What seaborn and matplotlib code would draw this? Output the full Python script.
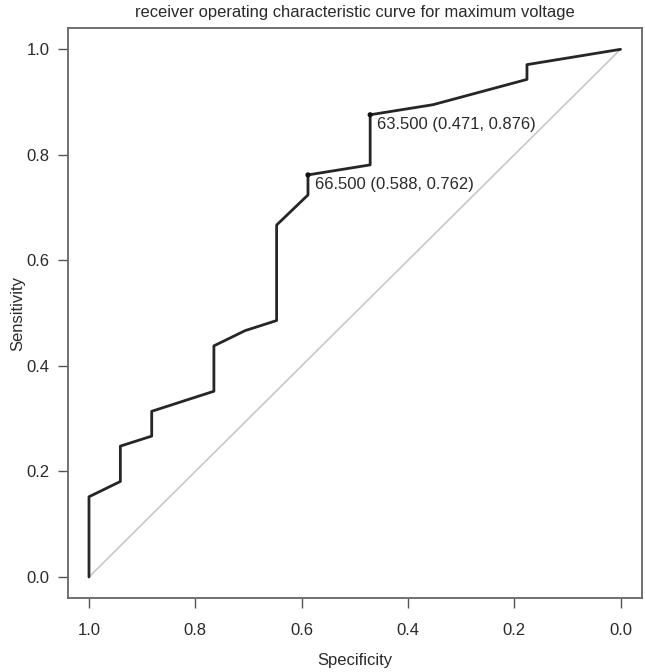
import matplotlib
matplotlib.use("Agg")
import matplotlib.pyplot as plt
import seaborn as sns
import pandas as pd

# ROC curve points (specificity, sensitivity)
specificity = [1.0, 1.0, 0.941, 0.941, 0.882, 0.882, 0.765, 0.765, 0.706, 0.647,
               0.647, 0.588, 0.588, 0.471, 0.471, 0.353, 0.176, 0.176, 0.0]
sensitivity = [0.0, 0.152, 0.181, 0.248, 0.267, 0.314, 0.352, 0.438, 0.467, 0.486,
               0.667, 0.724, 0.762, 0.781, 0.876, 0.895, 0.943, 0.971, 1.0]

# thresholds marked on the curve
thr_labels = ["66.500", "63.500"]
thr_spec = [0.588, 0.471]
thr_sens = [0.762, 0.876]

ticks = [0.0, 0.2, 0.4, 0.6, 0.8, 1.0]

sns.set_theme(style="white")
plt.rcParams['font.family'] = ['Liberation Sans', 'DejaVu Sans']

fig = plt.figure(figsize=(6.45, 6.72), dpi=100)
ax = fig.add_axes([0.105, 0.110, 0.890, 0.848])

roc = pd.DataFrame({"spec": specificity, "sens": sensitivity})
pts = pd.DataFrame({"spec": thr_spec, "sens": thr_sens, "label": thr_labels})

# chance diagonal
ax.plot([1, 0], [0, 1], color="#c4c4c4", lw=1.1, zorder=1)

sns.lineplot(data=roc, x="spec", y="sens", sort=False, estimator=None,
             color="#262626", lw=2.0, ax=ax, zorder=3)
sns.scatterplot(data=pts, x="spec", y="sens", color="#111111", s=14,
                edgecolor="none", ax=ax, zorder=4)
for _, r in pts.iterrows():
    ax.annotate(f"{r['label']} ({r['spec']:.3f}, {r['sens']:.3f})",
                (r["spec"], r["sens"]), xytext=(5, -1.5), textcoords="offset points",
                ha="left", va="top", fontsize=12, color="#2a2a2a")

ax.set_xlim(1.04, -0.04)
ax.set_ylim(-0.04, 1.04)
ax.set_xticks(ticks)
ax.set_yticks(ticks)
ax.set_xticklabels([f"{t:.1f}" for t in ticks])
ax.set_yticklabels([f"{t:.1f}" for t in ticks])
ax.tick_params(axis="both", direction="out", length=7, width=1, color="#555555",
               labelsize=12, labelcolor="#2a2a2a", bottom=True, left=True)
ax.tick_params(axis="x", pad=11)
ax.tick_params(axis="y", pad=6)
for sp in ax.spines.values():
    sp.set_color("#666666")
    sp.set_linewidth(1.3)

ax.set_xlabel("Specificity", fontsize=12, color="#2a2a2a", labelpad=11)
ax.set_ylabel("Sensitivity", fontsize=12, color="#2a2a2a", labelpad=1)
ax.set_title("receiver operating characteristic curve for maximum voltage",
             fontsize=11.9, color="#2a2a2a", pad=8)

fig.savefig("out.png", dpi=100)
